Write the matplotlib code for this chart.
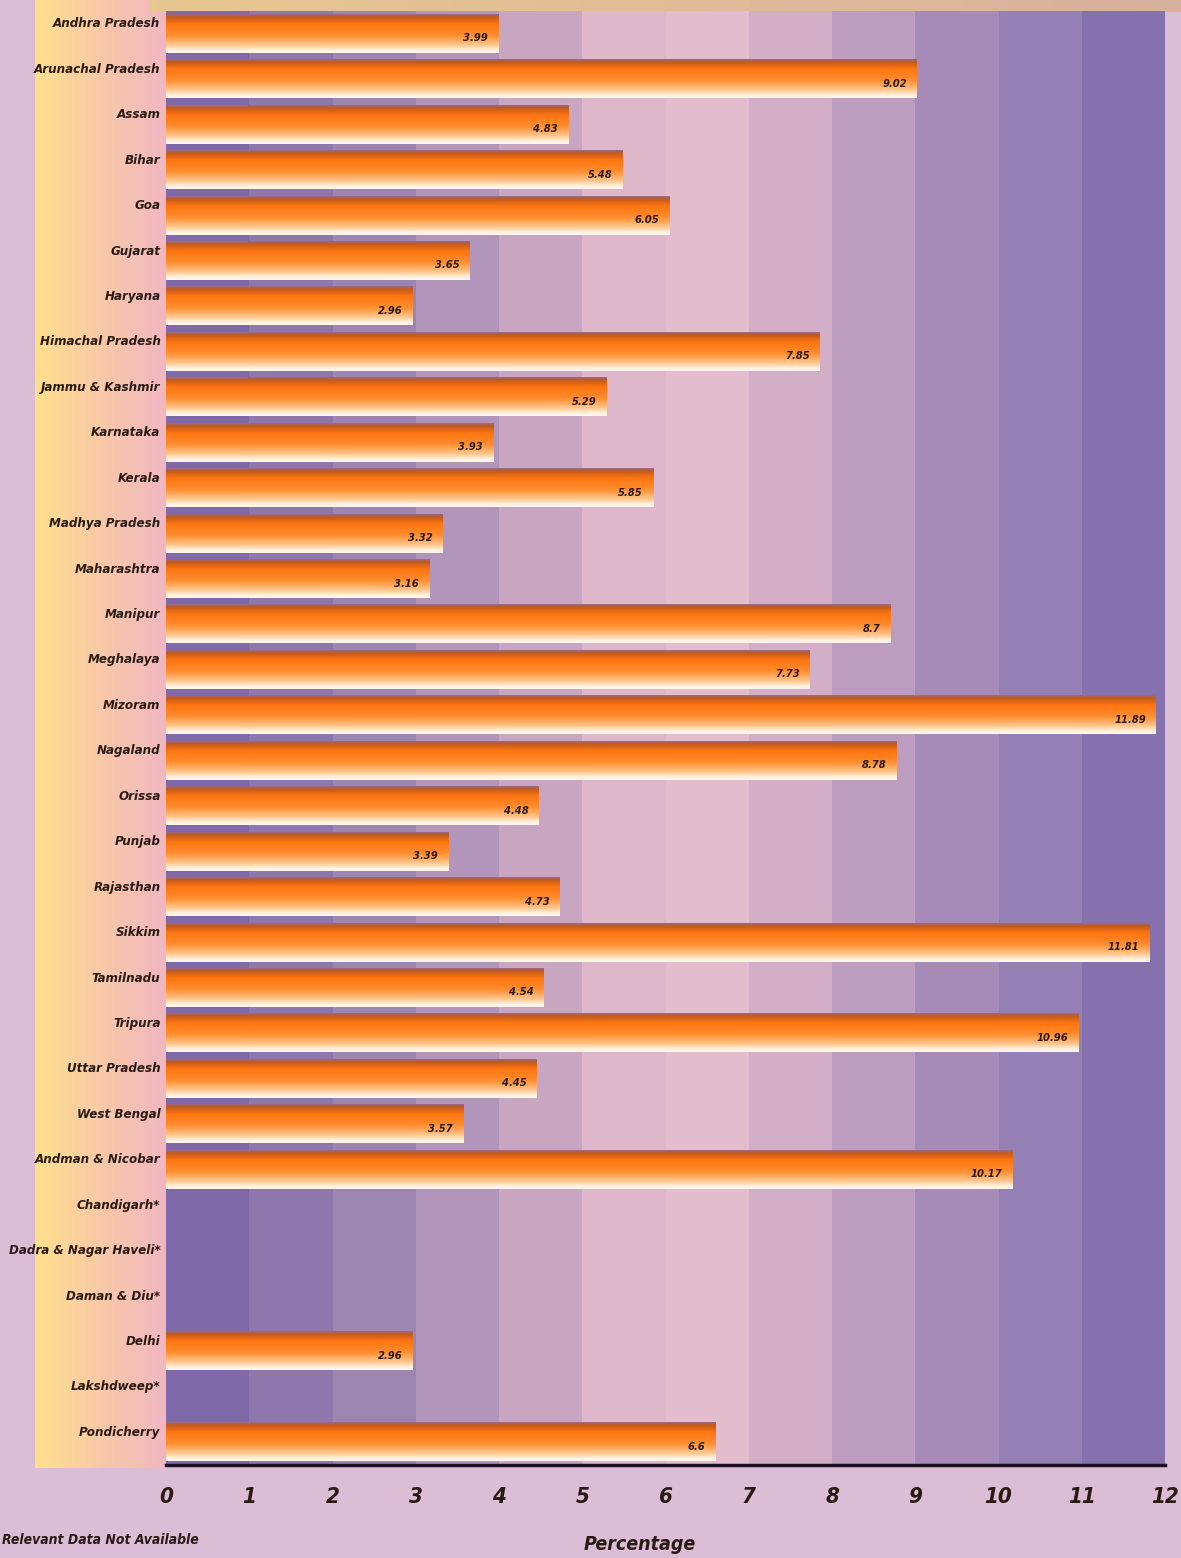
import numpy as np
import matplotlib
matplotlib.use("Agg")
import matplotlib.pyplot as plt
from matplotlib.colors import LinearSegmentedColormap

# data (None = relevant data not available)
states = ["Andhra Pradesh", "Arunachal Pradesh", "Assam", "Bihar", "Goa", "Gujarat",
          "Haryana", "Himachal Pradesh", "Jammu & Kashmir", "Karnataka", "Kerala",
          "Madhya Pradesh", "Maharashtra", "Manipur", "Meghalaya", "Mizoram", "Nagaland",
          "Orissa", "Punjab", "Rajasthan", "Sikkim", "Tamilnadu", "Tripura",
          "Uttar Pradesh", "West Bengal", "Andman & Nicobar", "Chandigarh*",
          "Dadra & Nagar Haveli*", "Daman & Diu*", "Delhi", "Lakshdweep*", "Pondicherry"]
values = [3.99, 9.02, 4.83, 5.48, 6.05, 3.65, 2.96, 7.85, 5.29, 3.93, 5.85, 3.32, 3.16,
          8.7, 7.73, 11.89, 8.78, 4.48, 3.39, 4.73, 11.81, 4.54, 10.96, 4.45, 3.57,
          10.17, None, None, None, 2.96, None, 6.6]
x_ticks = list(range(0, 13))
stripe_colors = ["#7f69a9", "#8e77ad", "#9d85b2", "#b195ba", "#c8a6c2", "#dfb7cb",
                 "#e3bccd", "#d3aec7", "#bc9dc0", "#a68bb9", "#9480b4", "#8471ad"]
FONT = dict(family="DejaVu Sans", fontstretch="condensed", fontweight="bold",
            style="italic", color="#2a1a14")

W, H = 1181, 1558
fig = plt.figure(figsize=(W / 100, H / 100), dpi=100)
fig.patch.set_facecolor("#dcbdd6")

# left label strip: lavender edge, then yellow -> pink gradient
strip = fig.add_axes([35 / W, 90 / H, 135 / W, 1 - 90 / H])
strip.axis("off")
grad_h = np.linspace(0, 1, 256).reshape(1, -1)
strip_cmap = LinearSegmentedColormap.from_list("strip", ["#ffe08c", "#f8c8a8", "#f0b6c4"])
strip.imshow(grad_h, aspect="auto", cmap=strip_cmap, extent=[0, 1, 0, 1])

# thin yellow band at the very top (title cut off)
top = fig.add_axes([150 / W, 1 - 12 / H, 1 - 150 / W, 12 / H])
top.axis("off")
top.imshow(grad_h, aspect="auto", cmap=LinearSegmentedColormap.from_list("t", ["#e8c890", "#d8b0a0"]),
           extent=[0, 1, 0, 1])

ax = fig.add_axes([166 / W, (H - 1465) / H, 999 / W, (1465 - 11) / H])
ax.set_xlim(0, 12)
n = len(states)
ax.set_ylim(n - 0.5, -0.5)

# vertical background stripes
for i, c in enumerate(stripe_colors):
    ax.axvspan(x_ticks[i], x_ticks[i + 1], color=c, lw=0, zorder=0)

# bars with a vertical orange gradient
ypos = np.arange(n)
widths = [v if v is not None else 0 for v in values]
bars = ax.barh(ypos, widths, height=0.84, color="#ff8a24", zorder=2)
bar_cmap = LinearSegmentedColormap.from_list(
    "bar", [(0.0, "#9a6a8a"), (0.07, "#c05a1c"), (0.25, "#ff7410"),
            (0.55, "#ff8e30"), (0.8, "#ffc890"), (0.92, "#fff0dc"), (1.0, "#fff8ee")])
grad_v = np.linspace(0, 1, 128).reshape(-1, 1)
for b, v in zip(bars, values):
    if v is None:
        continue
    x0, y0, w, h = b.get_x(), b.get_y(), b.get_width(), b.get_height()
    ax.imshow(grad_v, cmap=bar_cmap, aspect="auto", extent=[x0, x0 + w, y0 + h, y0],
              zorder=3, interpolation="bilinear")
    ax.text(x0 + w - 0.12, y0 + h * 0.62, f"{v:g}", ha="right", va="center",
            fontsize=8, zorder=4, **FONT)

# category labels sit at the upper part of each bar
ax.set_yticks(ypos - 0.25)
ax.set_yticklabels(states, fontsize=9.5, **FONT)
ax.tick_params(axis="y", length=0, pad=4)

ax.set_xticks(x_ticks)
ax.set_xticklabels([str(t) for t in x_ticks], fontsize=16, **FONT)
ax.tick_params(axis="x", length=0, pad=16)

for s in ["top", "right", "left"]:
    ax.spines[s].set_visible(False)
ax.spines["bottom"].set_color("#1a1020")
ax.spines["bottom"].set_linewidth(2.5)

fig.text(640 / W, 1 - 1545 / H, "Percentage", ha="center", va="center", fontsize=14, **FONT)
fig.text(2 / W, 1 - 1540 / H, "Relevant Data Not Available", ha="left", va="center",
         fontsize=10, **FONT)

fig.savefig("out.png", dpi=100, facecolor=fig.get_facecolor())
